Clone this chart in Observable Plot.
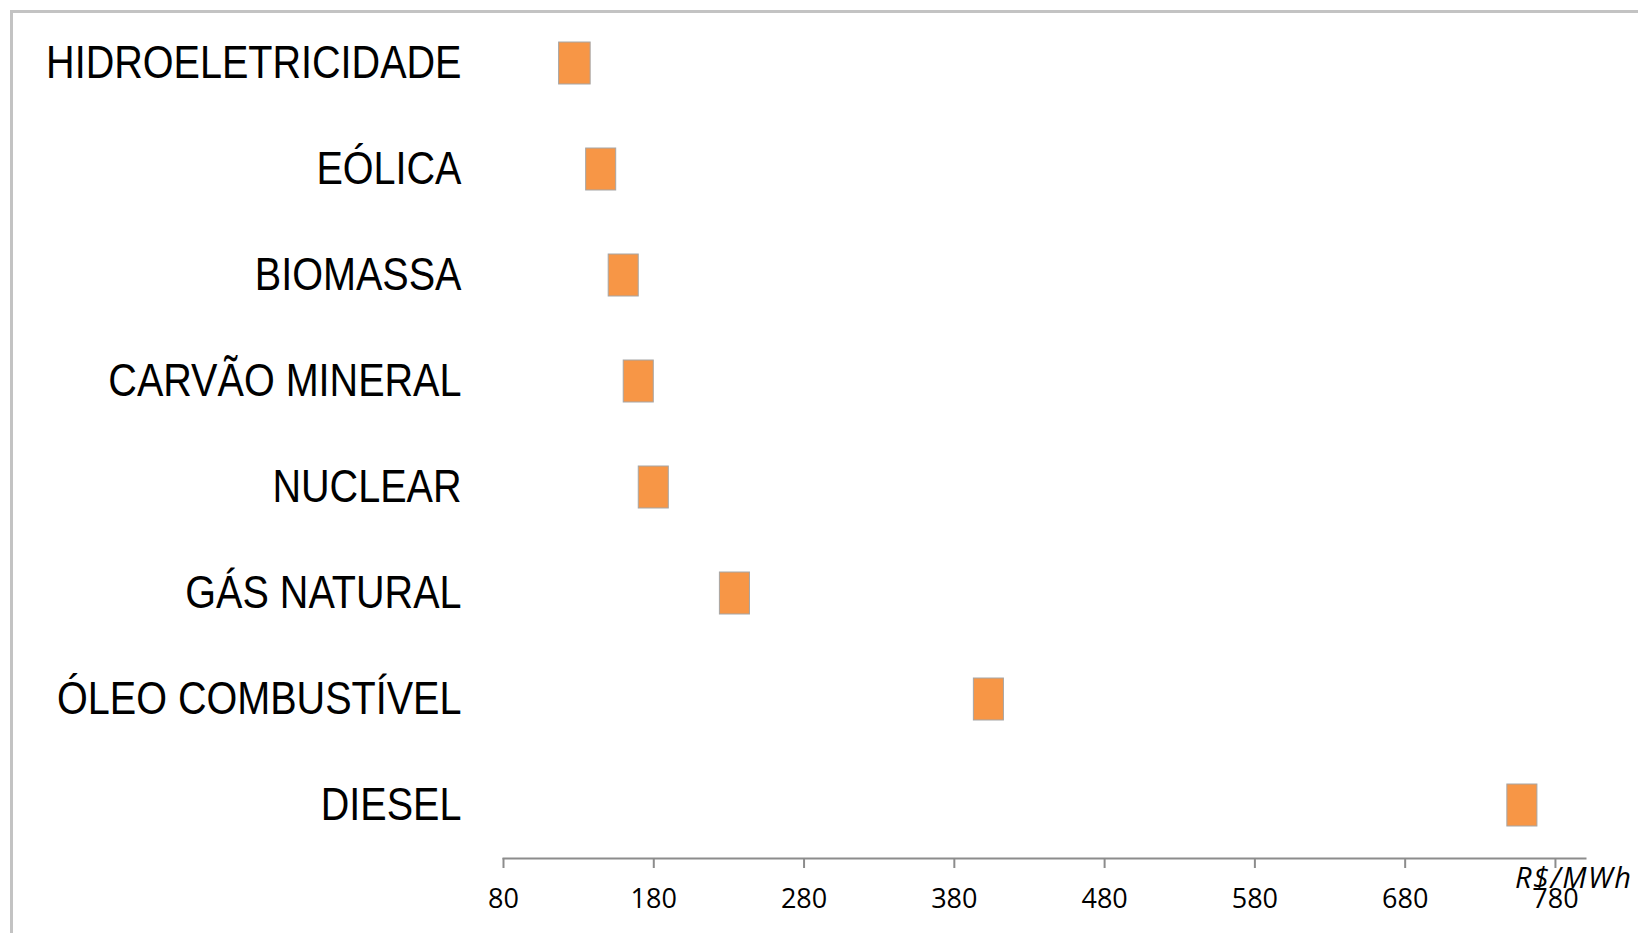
<!DOCTYPE html>
<html>
<head>
<meta charset="utf-8">
<script src="https://cdn.jsdelivr.net/npm/d3@7"></script>
<script src="https://cdn.jsdelivr.net/npm/@observablehq/plot@0.6"></script>
<style>
  html, body { margin: 0; padding: 0; background: #fff; width: 1638px; height: 933px; overflow: hidden; }
  #wrap { position: relative; width: 1638px; height: 933px; }
  #frame { position: absolute; left: 10px; top: 10px; right: -10px; bottom: -10px; border-left: 3px solid #c3c3c3; border-top: 3px solid #c3c3c3; z-index: 2; pointer-events: none; }
  #unit { position: absolute; left: 1515px; top: 857px; font: italic 29px "Open Sans", sans-serif; letter-spacing: 1.5px; color: #000; z-index: 3; white-space: nowrap; }
</style>
</head>
<body>
<div id="wrap">
  <div id="frame"></div>
  <div id="chart"></div>
  <div id="unit">R$/MWh</div>
</div>
<script>
const categories = ["HIDROELETRICIDADE", "EÓLICA", "BIOMASSA", "CARVÃO MINERAL", "NUCLEAR", "GÁS NATURAL", "ÓLEO COMBUSTÍVEL", "DIESEL"];
const minCost = [117, 135, 150, 160, 170, 224, 393, 748];
const maxCost = [138, 155, 170, 180, 190, 244, 413, 768];
const xTicks = [80, 180, 280, 380, 480, 580, 680, 780];

const data = categories.map((c, i) => ({fonte: c, min: minCost[i], max: maxCost[i]}));

const chart = Plot.plot({
  width: 1638,
  height: 933,
  marginTop: 11,
  marginBottom: 75,
  marginLeft: 503,
  marginRight: 53,
  style: {background: "transparent", color: "#000"},
  x: {domain: [80, 800]},
  y: {domain: categories, paddingInner: 0.6, paddingOuter: 0.27},
  marks: [
    Plot.frame({anchor: "bottom", stroke: "#8c8c8c", strokeWidth: 2}),
    Plot.axisX({ticks: xTicks, tickSize: 10, tickPadding: 20, stroke: "#8c8c8c", strokeWidth: 2, label: null,
      fontSize: 27, fontFamily: "Open Sans", fill: "#000"}),
    Plot.axisY({tickSize: 0, tickPadding: 42, label: null, fontSize: 46, fontFamily: "Liberation Sans", fill: "#000"}),
    Plot.barX(data, {x1: "min", x2: "max", y: "fonte", fill: "#F79646", stroke: "#a6a6a6", strokeWidth: 1})
  ]
});
document.getElementById("chart").appendChild(chart);
// condense the category labels (narrow typeface look)
d3.select(chart).selectAll('g[aria-label="y-axis tick label"] text').each(function () {
  const w = this.getComputedTextLength();
  this.setAttribute("textLength", (w * 0.86).toFixed(1));
  this.setAttribute("lengthAdjust", "spacingAndGlyphs");
});
</script>
</body>
</html>
